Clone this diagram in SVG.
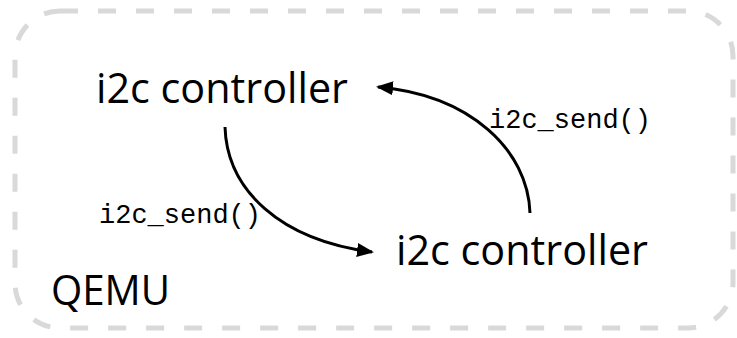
<svg xmlns="http://www.w3.org/2000/svg" width="737" height="338" viewBox="0 0 737 338">
<style>
.frame{fill:none;stroke:#d9d9d9;stroke-width:5;stroke-dasharray:18 20}
.big{font-family:"Open Sans","Liberation Sans",sans-serif;font-size:42px;fill:#000}
.mono{font-family:"Liberation Mono","Courier New",monospace;font-size:27px;fill:#000}
.conn{fill:none;stroke:#000;stroke-width:3}
</style>
<defs>
<marker id="ah" markerUnits="userSpaceOnUse" markerWidth="18" markerHeight="14" refX="15" refY="7" orient="auto">
<path d="M0,0 L17,7 L0,14 z" fill="#000"/>
</marker>
</defs>
<g id="qemu">
<rect class="frame" x="15" y="11" width="718" height="317" rx="45" ry="45"/>
<text class="big" x="51" y="305" textLength="119" lengthAdjust="spacingAndGlyphs">QEMU</text>
</g>
<g id="controller1">
<text class="big" x="96" y="103" textLength="252" lengthAdjust="spacingAndGlyphs">i2c controller</text>
</g>
<g id="controller2">
<text class="big" x="396" y="265" textLength="252" lengthAdjust="spacingAndGlyphs">i2c controller</text>
</g>
<g id="connectors">
<path class="conn" d="M225,127 C227,190 280,240 372,252" marker-end="url(#ah)"/>
<path class="conn" d="M530,213 C528,150 470,95 378,87" marker-end="url(#ah)"/>
<text class="mono" x="489" y="128">i2c_send()</text>
<text class="mono" x="99" y="223">i2c_send()</text>
</g>
</svg>
